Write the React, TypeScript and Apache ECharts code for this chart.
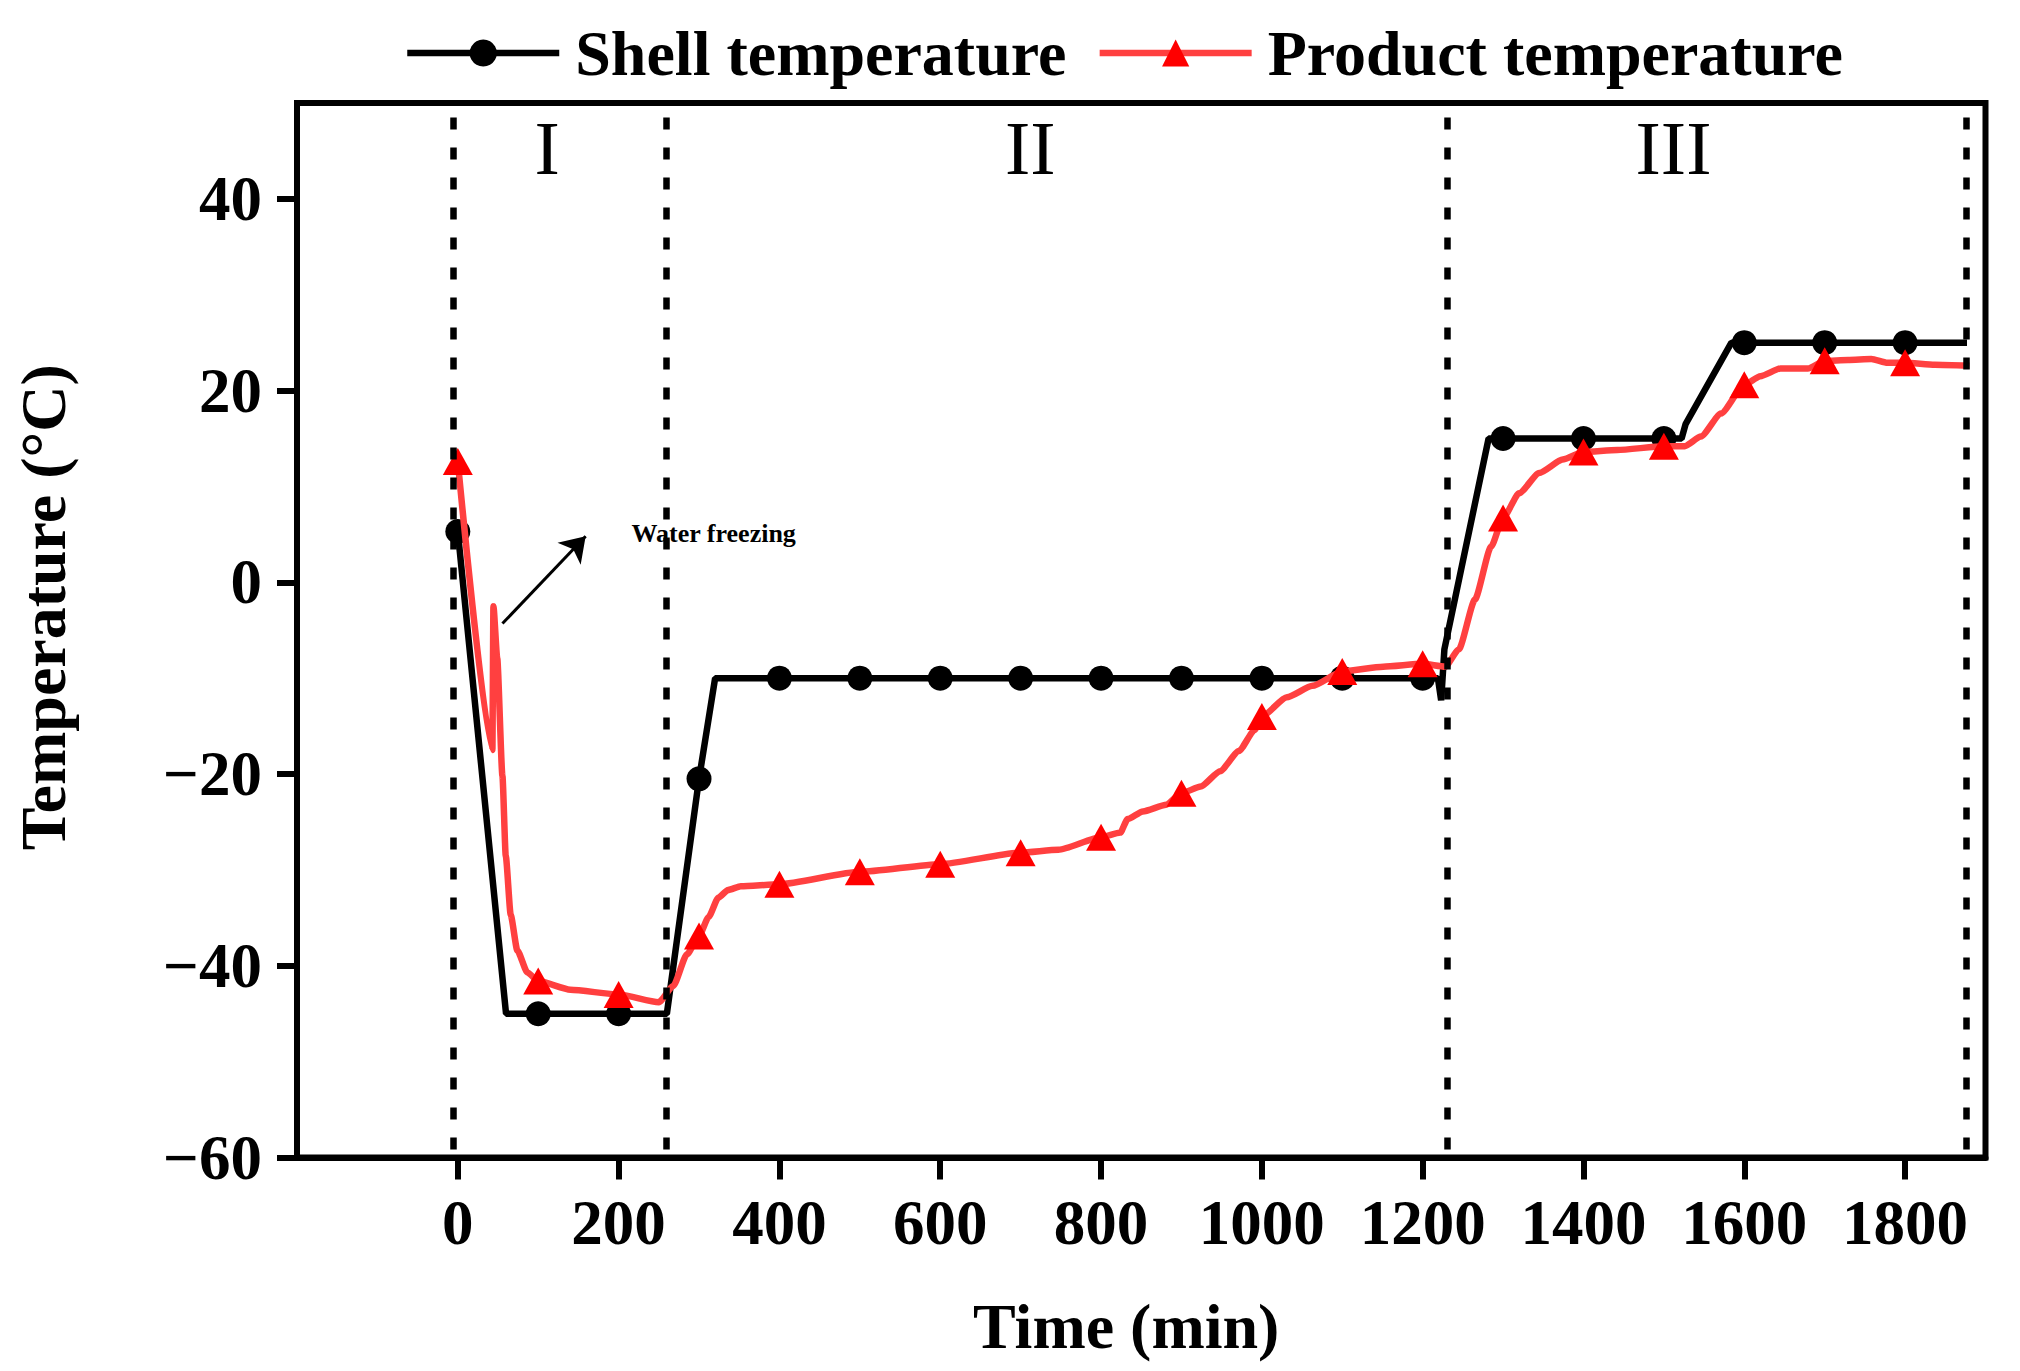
import React, { useEffect, useRef } from "react";
import * as echarts from "echarts";

const FONT = "'Liberation Serif', 'Times New Roman', serif";

// Shell temperature (black line)
const shellTime = [0, 60, 100, 200, 260, 300, 320, 400, 500, 600, 700, 800, 900, 1000, 1100, 1200, 1219, 1223, 1227, 1282, 1300, 1400, 1500, 1522, 1527, 1584, 1600, 1700, 1800, 1877];
const shellTemp = [5.3, -45, -45, -45, -45, -20.5, -10, -10, -10, -10, -10, -10, -10, -10, -10, -10, -10, -12.3, -7, 15, 15, 15, 15, 15, 16.5, 25, 25, 25, 25, 25];

// Product temperature (red line)
const productTime = [0, 43, 44.3, 49, 55.5, 59.6, 65.8, 74, 86.5, 100, 140, 200, 250, 268, 285, 300, 312, 324, 336, 352, 400, 500, 600, 700, 747, 800, 824, 833, 852, 881, 900, 924, 948, 971.5, 991, 1000, 1031, 1063, 1100, 1151, 1200, 1228, 1245, 1265, 1285, 1300, 1320, 1345, 1374, 1400, 1442, 1500, 1526, 1546, 1571, 1600, 1620, 1645, 1679, 1700, 1729, 1758, 1778, 1800, 1837, 1880];
const productTemp = [12.6, -17.5, -2.5, -7.9, -20.2, -28.5, -34.7, -38.4, -40.7, -41.6, -42.5, -43.0, -43.8, -42.1, -38.8, -36.9, -34.9, -32.9, -32.1, -31.7, -31.5, -30.2, -29.4, -28.2, -27.9, -26.6, -26.1, -24.7, -23.9, -23.2, -22.0, -21.3, -19.7, -17.6, -15.4, -14.0, -12.0, -10.8, -9.3, -8.8, -8.5, -8.8, -7.0, -1.8, 3.7, 6.7, 9.3, 11.4, 12.8, 13.6, 13.8, 14.2, 14.2, 15.2, 17.6, 20.6, 21.5, 22.3, 22.3, 23.1, 23.2, 23.3, 22.9, 22.9, 22.7, 22.6];

const markerTimes = [0, 100, 200, 300, 400, 500, 600, 700, 800, 900, 1000, 1100, 1200, 1300, 1400, 1500, 1600, 1700, 1800];
const xTicks = [0, 200, 400, 600, 800, 1000, 1200, 1400, 1600, 1800];
const yTicks = [-60, -40, -20, 0, 20, 40];

const phaseBoundaries = [-6, 259, 1231, 1876];
const phaseLabels = ["I", "II", "III"];
const phaseLabelTimes = [111, 712, 1512];
const phaseLabelTemp = 45.3;

const annotationText = "Water freezing";
const arrowFrom = [55.5, -4.3];
const arrowTo = [159, 4.8];
const annotationAt = [216, 5.1];

const toItems = (ts: number[], vs: number[]) =>
  ts.map((t, i) =>
    markerTimes.includes(t) ? { value: [t, vs[i]] } : { value: [t, vs[i]], symbol: "none" }
  );

const fmtY = (v: number) => (v < 0 ? "\u2212" + Math.abs(v) : String(v));
const fmtX = (v: number) => String(v);

export default function App() {
  const ref = useRef<HTMLDivElement>(null);
  useEffect(() => {
    if (!ref.current) return;
    const chart = echarts.init(ref.current, null, { renderer: "svg" });
    const axisText = { fontFamily: FONT, fontWeight: "bold", color: "#000", fontSize: 63 };
    chart.setOption({
      animation: false,
      backgroundColor: "#fff",
      textStyle: { fontFamily: FONT },
      legend: {
        data: ["Shell temperature", "Product temperature"],
        left: 404,
        top: 21,
        padding: 0,
        itemWidth: 152,
        itemHeight: 34,
        itemGap: 30,
        lineStyle: { width: 6.5 },
        textStyle: { fontFamily: FONT, fontWeight: "bold", fontSize: 64, color: "#000", padding: [0, 0, 0, 11] },
      },
      grid: {
        left: 297,
        right: 34.5,
        top: 103,
        bottom: 213.5,
        show: true,
        borderColor: "#000",
        borderWidth: 6,
        containLabel: false,
        outerBoundsMode: "none",
      },
      xAxis: {
        type: "value",
        min: -200,
        max: 1900,
        interval: 100,
        name: "Time (min)",
        nameLocation: "middle",
        nameGap: 137,
        nameTextStyle: { ...axisText, fontSize: 64, padding: [0, 30, 0, 0] },
        axisLine: { show: true, onZero: false, lineStyle: { color: "#000", width: 6 } },
        axisTick: { show: true, inside: false, length: 22, customValues: xTicks, lineStyle: { color: "#000", width: 6 } },
        axisLabel: { show: true, margin: 34, customValues: xTicks, formatter: fmtX, ...axisText },
        splitLine: { show: false },
      },
      yAxis: {
        type: "value",
        min: -60,
        max: 50,
        interval: 10,
        name: "Temperature (°C)",
        nameLocation: "middle",
        nameRotate: 90,
        nameGap: 222,
        nameTextStyle: { ...axisText, fontSize: 64, padding: [0, 0, 0, 46] },
        axisLine: { show: true, onZero: false, lineStyle: { color: "#000", width: 6 } },
        axisTick: { show: true, inside: false, length: 20, customValues: yTicks, lineStyle: { color: "#000", width: 6 } },
        axisLabel: { show: true, margin: 35, customValues: yTicks, formatter: fmtY, ...axisText },
        splitLine: { show: false },
      },
      series: [
        {
          name: "Shell temperature",
          type: "line",
          data: toItems(shellTime, shellTemp),
          symbol: "circle",
          symbolSize: 25,
          showAllSymbol: true,
          itemStyle: { color: "#000" },
          lineStyle: { color: "#000", width: 6.5 },
          z: 2,
          markLine: {
            silent: true,
            symbol: ["none", "none"],
            label: { show: false },
            lineStyle: { color: "#000", width: 6.5, type: [12, 18] },
            data: phaseBoundaries.map((x) => [{ coord: [x, 48.5] }, { coord: [x, -59.2] }]),
          },
          markPoint: {
            silent: true,
            symbol: "circle",
            symbolSize: 0,
            itemStyle: { color: "transparent" },
            label: {
              show: true,
              position: "inside",
              formatter: "{b}",
              fontFamily: FONT,
              fontWeight: "normal",
              fontSize: 76,
              color: "#000",
            },
            data: phaseLabels.map((n, i) => ({ name: n, coord: [phaseLabelTimes[i], phaseLabelTemp] })),
          },
        },
        {
          name: "Product temperature",
          type: "line",
          data: toItems(productTime, productTemp),
          symbol: "triangle",
          symbolSize: [30, 27],
          showAllSymbol: true,
          smooth: 0.2,
          smoothMonotone: "x",
          itemStyle: { color: "#ff0000" },
          lineStyle: { color: "#ff4040", width: 6.5 },
          z: 3,
          markLine: {
            silent: true,
            symbol: ["none", "arrow"],
            symbolSize: 24,
            label: { show: false },
            itemStyle: { color: "#000" },
            lineStyle: { color: "#000", width: 3, type: "solid" },
            data: [[{ coord: arrowFrom }, { coord: arrowTo }]],
          },
          markPoint: {
            silent: true,
            symbol: "circle",
            symbolSize: 0,
            itemStyle: { color: "transparent" },
            label: {
              show: true,
              position: "right",
              distance: 0,
              formatter: "{b}",
              fontFamily: FONT,
              fontWeight: "bold",
              fontSize: 26,
              color: "#000",
            },
            data: [{ name: annotationText, coord: annotationAt }],
          },
        },
      ],
    });
    return () => chart.dispose();
  }, []);
  return (
    <div
      ref={ref}
      style={{ position: "absolute", left: 0, top: 0, width: 2020, height: 1371, background: "#fff" }}
    />
  );
}
